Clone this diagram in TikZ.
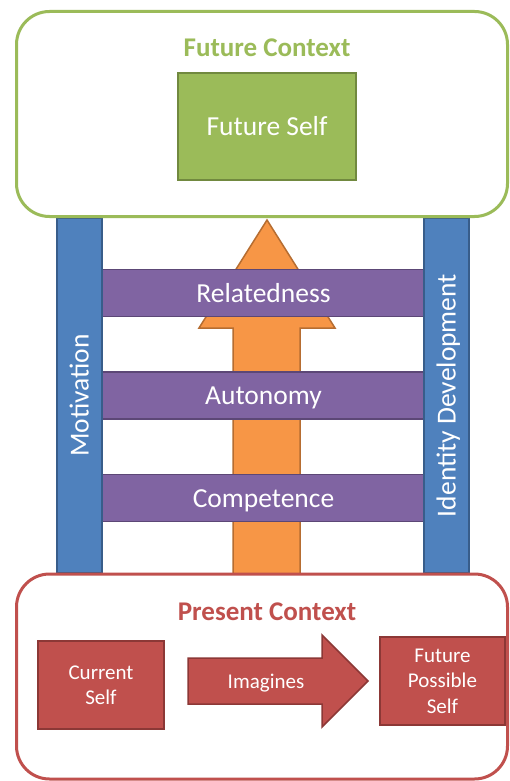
\documentclass[tikz,border=0pt]{standalone}
\usepackage{fontspec}
\setmainfont{Carlito}
\usetikzlibrary{positioning}
\definecolor{ctxgreen}{HTML}{9BBB59}
\definecolor{ctxgreendark}{HTML}{71893F}
\definecolor{ctxred}{HTML}{C0504D}
\definecolor{ctxreddark}{HTML}{8C3836}
\definecolor{pillarblue}{HTML}{4F81BD}
\definecolor{pillarbluedark}{HTML}{385D8A}
\definecolor{rungpurple}{HTML}{8064A2}
\definecolor{rungpurpledark}{HTML}{5C4776}
\definecolor{groworange}{HTML}{F79646}
\definecolor{groworangedark}{HTML}{B66D31}
\tikzset{x=1pt, y=-1pt, % One unit is one pixel of the picture, y runs downwards
context/.style={ % Sets the properties of the two big frames
draw, line width=3pt,
rounded corners=33pt,
fill=white,
minimum width=491pt},
title/.style={font=\fontsize{27}{32}\selectfont\bfseries}, % Frame headings
selfbox/.style={ % Boxes holding a self
draw, line width=2pt,
text=white, align=center,
inner sep=0pt,
font=\fontsize{21}{25.5}\selectfont},
rung/.style={ % Purple bars of the ladder
draw=rungpurpledark, fill=rungpurple,
line width=1.5pt, text=white,
minimum width=323pt, minimum height=47pt,
text height=18pt, text depth=0pt,
font=\fontsize{27.5}{33}\selectfont},
pillar/.style={ % Blue side bars, text turned upwards
draw=pillarbluedark, fill=pillarblue,
line width=1.5pt, text=white, rotate=90,
minimum width=355pt, minimum height=45pt,
text height=18pt, text depth=0pt,
font=\fontsize{27.5}{33}\selectfont}}

\begin{document}
\begin{tikzpicture}

    \useasboundingbox (0,0) rectangle (510,781);

    \draw[fill=groworange, draw=groworangedark, line width=1.5pt]
        (233,575) -- (233,328) -- (199,328) -- (267,220) -- (335,328) -- (300,328) -- (300,575) -- cycle;

    \node[rung] (rel) at (263.5,293) {Relatedness};
    \node[rung] (aut) at (263.5,395.5) {Autonomy};
    \node[rung] (com) at (263.5,498) {Competence};

    \node[pillar] (mot) at (79.5,395.5) {Motivation};
    \node[pillar] (ide) at (446.5,395.5) {Identity Development};

    \node[context, draw=ctxgreen, minimum height=205pt] (fut) at (262,114) {};
    \node[context, draw=ctxred, minimum height=205pt] (pre) at (262,676.5) {};

    \node[title, text=ctxgreen] (futt) at (267,48) {Future Context};
    \node[selfbox, fill=ctxgreen, draw=ctxgreendark, minimum width=178pt, minimum height=107pt,
        font=\fontsize{27.5}{33}\selectfont, text height=18pt, text depth=0pt] (fs) at (267,126.5) {Future Self};

    \node[title, text=ctxred] (pret) at (267,611.5) {Present Context};
    \node[selfbox, fill=ctxred, draw=ctxreddark, minimum width=126pt, minimum height=88pt] (cs) at (101,685) {Current\\Self};
    \node[selfbox, fill=ctxred, draw=ctxreddark, minimum width=125pt, minimum height=88pt] (fps) at (442.5,681) {Future\\Possible\\Self};

    \draw[fill=ctxred, draw=ctxreddark, line width=1.5pt]
        (188,658) -- (322,658) -- (322,635) -- (368,681) -- (322,727) -- (322,704) -- (188,704) -- cycle;
    \node[text=white, font=\fontsize{21}{25.5}\selectfont, text height=13pt, text depth=0pt] (img) at (266,681.5) {Imagines};

\end{tikzpicture}
\end{document}
